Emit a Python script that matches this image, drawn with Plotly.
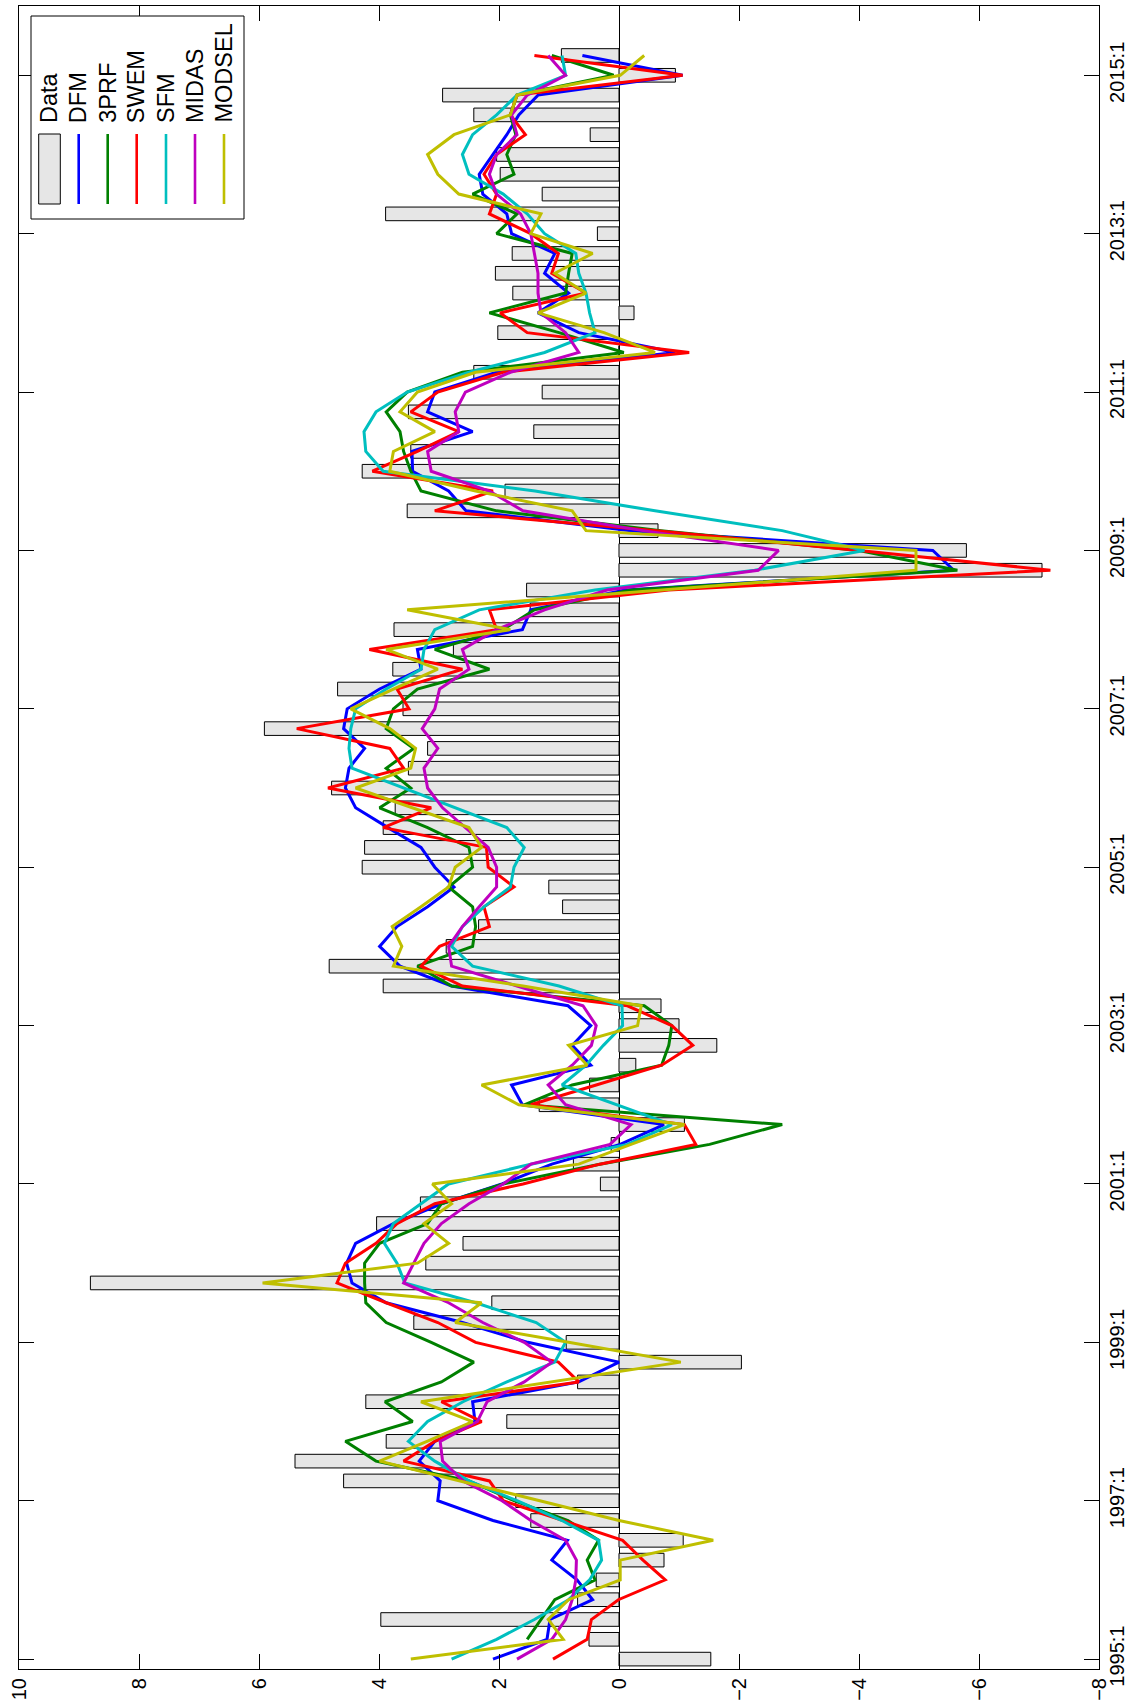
import plotly.graph_objects as go

# ---------------- data (quarterly, 1995:1 .. 2015:2) ----------------
quarters = [1995 + i / 4 for i in range(82)]

data_vals = [-1.53, 0.50, 3.97, 0.69, 0.38, -0.75, -1.07, 1.47, 1.72, 4.59,
             5.40, 3.88, 1.87, 4.22, 0.69, -2.04, 0.88, 3.42, 2.12, 8.81,
             3.22, 2.60, 4.04, 3.31, 0.31, 0.76, 0.13, -1.09, 1.33, 0.49,
             -0.28, -1.63, -1.00, -0.70, 3.93, 4.83, 2.88, 2.34, 0.94, 1.17,
             4.28, 4.24, 3.93, 3.73, 4.79, 3.51, 3.19, 5.91, 3.60, 4.69,
             3.77, 2.76, 3.75, 1.48, 1.54, -7.05, -5.79, -0.65, 3.53, 1.90,
             4.28, 3.47, 1.42, 3.51, 1.28, 2.42, 0.00, 2.02, -0.25, 1.77,
             2.06, 1.78, 0.36, 3.89, 1.28, 1.98, 2.04, 0.48, 2.42, 2.94,
             -0.94, 0.96]

dfm = [2.10, 1.20, 1.15, 0.44, 0.70, 1.12, 0.86, 2.10, 3.02, 2.98,
       3.33, 3.07, 2.40, 2.44, 0.67, 0.00, 1.52, 2.61, 3.88, 4.45,
       4.54, 4.39, 3.76, 2.96, 1.95, 1.12, -0.02, -0.75, 1.61, 1.79,
       0.47, 0.78, 0.47, 0.85, 2.79, 3.65, 3.99, 3.70, 3.19, 2.75,
       3.07, 3.30, 3.85, 4.39, 4.56, 4.50, 4.24, 4.59, 4.53, 3.99,
       3.30, 3.36, 1.61, 1.47, -0.10, -5.58, -5.23, -0.20, 2.55, 2.84,
       3.44, 3.45, 2.44, 3.19, 3.07, 2.04, -0.94, 0.67, 1.35, 0.84,
       1.24, 1.07, 1.79, 1.87, 2.27, 2.33, 2.10, 1.87, 1.67, 1.35,
       -1.06, 0.61]

prf3 = [None, 1.53, 1.30, 1.07, 0.40, 0.53, 0.34, 0.85, 1.75, 2.50,
        4.05, 4.56, 3.44, 3.90, 2.96, 2.42, 3.13, 3.88, 4.22, 4.24,
        4.24, 3.99, 3.19, 2.96, 1.93, 0.32, -1.51, -2.72, 1.58, 0.78,
        -0.71, -0.83, -0.88, -0.42, 2.79, 3.36, 2.44, 2.39, 2.44, 2.84,
        2.44, 2.50, 3.19, 3.99, 3.47, 3.88, 3.42, 3.88, 3.76, 3.36,
        2.16, 3.07, 1.93, 1.41, -0.20, -5.64, -4.00, -0.70, 2.04, 3.30,
        3.47, 3.59, 3.65, 3.88, 3.53, 2.61, -0.08, 1.00, 2.16, 0.89,
        0.84, 0.78, 2.04, 1.70, 2.44, 1.75, 1.87, 1.72, 1.81, 1.70,
        0.09, 1.12]

swem = [1.10, 0.53, 0.46, 0.01, -0.77, -0.40, -0.06, 0.95, 1.93, 2.16,
        3.59, 3.07, 2.29, 2.96, 0.67, 1.01, 2.39, 3.02, 3.88, 4.70,
        4.56, 4.05, 3.70, 3.07, 1.60, 0.32, -1.28, -1.09, 1.47, 0.38,
        -0.71, -1.23, -0.88, -0.14, 2.61, 3.30, 2.99, 2.16, 2.25, 1.75,
        2.18, 2.21, 3.93, 3.13, 4.85, 3.59, 3.82, 5.37, 3.50, 3.70,
        2.61, 4.16, 2.04, 2.16, -0.83, -7.19, -4.00, -0.62, 3.07, 2.10,
        4.11, 3.36, 2.67, 3.47, 3.02, 1.93, -1.17, 1.53, 1.98, 0.55,
        1.12, 1.01, 1.47, 2.16, 2.04, 2.25, 2.04, 1.56, 1.81, 1.70,
        -1.06, 1.41]

sfm = [2.79, 2.04, 1.41, 0.84, 0.49, 0.29, 0.34, 0.95, 1.70, 2.50,
       3.07, 3.51, 3.19, 2.60, 1.87, 1.07, 0.89, 1.38, 2.39, 3.57,
       3.70, 3.91, 3.76, 3.30, 2.84, 1.47, -0.14, -0.88, 0.03, 0.95,
       0.55, 0.26, -0.06, -0.05, 1.00, 2.44, 2.79, 2.61, 2.25, 1.81,
       1.75, 1.58, 1.87, 2.73, 3.59, 4.45, 4.50, 4.47, 4.39, 3.88,
       3.30, 3.25, 3.07, 2.33, 0.40, -2.26, -4.09, -2.72, -0.60, 1.40,
       3.93, 4.22, 4.25, 4.05, 3.53, 2.50, 1.24, 0.40, 0.49, 0.55,
       0.67, 0.72, 1.24, 1.53, 1.93, 2.50, 2.61, 2.44, 2.04, 1.70,
       0.89, 0.95]

midas = [1.70, 1.12, 0.89, 0.78, 0.72, 0.71, 0.89, 1.47, 1.95, 2.60,
         2.94, 2.98, 2.36, 2.20, 1.58, 1.12, 1.58, 2.27, 2.84, 3.59,
         3.42, 3.25, 2.96, 2.50, 1.93, 1.47, 0.15, -0.20, 0.89, 1.18,
         0.78, 0.46, 0.38, 0.60, 1.70, 2.79, 2.84, 2.61, 2.33, 2.04,
         2.04, 2.18, 2.56, 2.94, 3.19, 3.25, 3.02, 3.28, 3.07, 2.99,
         2.50, 2.61, 2.04, 1.24, 0.20, -2.32, -2.66, -0.40, 1.60, 2.16,
         3.13, 3.19, 2.67, 2.73, 2.56, 1.81, 0.67, 0.89, 1.30, 1.35,
         1.35, 1.41, 1.47, 1.64, 2.04, 2.16, 2.04, 1.70, 1.79, 1.53,
         0.89, 1.18]

modsel = [3.47, 0.93, 1.18, 0.84, -0.02, -0.02, -1.57, 0.00, 1.32, 2.65,
          3.99, 3.20, 2.44, 3.30, 1.12, -1.03, 0.84, 2.73, 2.29, 5.94,
          3.36, 2.84, 3.25, 2.79, 3.11, 0.67, -0.20, -1.09, 1.67, 2.29,
          0.53, 0.84, -0.31, -0.37, 1.60, 3.76, 3.62, 3.78, 3.30, 2.84,
          2.73, 2.29, 2.50, 3.45, 4.39, 3.47, 3.39, 3.82, 4.47, 3.76,
          3.02, 3.88, 1.81, 3.53, -0.70, -4.95, -4.95, 0.55, 0.78, 2.39,
          3.82, 3.76, 3.07, 3.65, 3.36, 2.39, -0.60, 0.25, 1.35, 0.55,
          1.07, 0.44, 1.47, 1.30, 2.67, 3.02, 3.19, 2.75, 1.81, 1.70,
          -0.02, -0.42]

series_names = ["DFM", "3PRF", "SWEM", "SFM", "MIDAS", "MODSEL"]
series_vals = [dfm, prf3, swem, sfm, midas, modsel]
series_colors = ["#0000ff", "#008000", "#ff0000", "#00bfbf", "#bf00bf", "#bfbf00"]

time_tick_vals = [1995, 1997, 1999, 2001, 2003, 2005, 2007, 2009, 2011, 2013, 2015]
time_tick_text = ["1995:1", "1997:1", "1999:1", "2001:1", "2003:1", "2005:1",
                  "2007:1", "2009:1", "2011:1", "2013:1", "2015:1"]
value_tick_vals = [10, 8, 6, 4, 2, 0, -2, -4, -6, -8]
value_tick_text = ["10", "8", "6", "4", "2", "0", "\u22122", "\u22124", "\u22126", "\u22128"]

# ---------------- figure ----------------
FONT = "Liberation Sans, Arial, Helvetica, sans-serif"
fig = go.Figure()

fig.add_trace(go.Bar(
    y=quarters, x=data_vals, orientation="h", width=0.172,
    marker=dict(color="#e6e6e6", line=dict(color="black", width=1)),
    name="Data"))

for name, vals, col in zip(series_names, series_vals, series_colors):
    fig.add_trace(go.Scatter(
        y=quarters, x=vals, mode="lines", name=name,
        line=dict(color=col, width=3), connectgaps=False))

PL, PR, PT, PB = 19, 1099, 6, 1669
W, H = 1142, 1708


def px(x):
    return (x - PL) / (PR - PL)


def py(y):
    return 1 - (y - PT) / (PB - PT)


fig.update_layout(
    width=W, height=H,
    margin=dict(l=PL, r=W - PR, t=PT, b=H - PB, pad=0),
    paper_bgcolor="white", plot_bgcolor="white",
    showlegend=False, barmode="overlay", hovermode=False,
    font=dict(family=FONT, color="black", size=20),
)

fig.update_xaxes(
    range=[10, -8], tickmode="array", tickvals=value_tick_vals,
    ticktext=value_tick_text,
    tickangle=-90, ticks="inside", ticklen=15, tickwidth=1, tickcolor="black",
    showline=True, linecolor="black", linewidth=1, mirror="ticks",
    showgrid=False, zeroline=True, zerolinecolor="black", zerolinewidth=1,
    tickfont=dict(family=FONT, size=20, color="black"), automargin=False,
)
fig.update_yaxes(
    range=[1994.875, 2015.875], tickmode="array",
    tickvals=time_tick_vals, ticktext=time_tick_text, side="right",
    tickangle=-90, ticks="inside", ticklen=15, tickwidth=1, tickcolor="black",
    showline=True, linecolor="black", linewidth=1, mirror="ticks",
    showgrid=False, zeroline=False,
    tickfont=dict(family=FONT, size=20, color="black"), automargin=False,
)

# ---------------- rotated legend (top-left) ----------------
shapes = []
annotations = []
shapes.append(dict(type="rect", xref="paper", yref="paper",
                   x0=px(31), x1=px(244), y0=py(219), y1=py(16),
                   fillcolor="white", line=dict(color="black", width=1)))
legend_names = ["Data"] + series_names
entry_x = [49.5, 78.7, 107.7, 136.7, 166, 195, 224]
for i, (nm, cx) in enumerate(zip(legend_names, entry_x)):
    if i == 0:
        shapes.append(dict(type="rect", xref="paper", yref="paper",
                           x0=px(cx - 10.8), x1=px(cx + 10.8), y0=py(204), y1=py(134),
                           fillcolor="#e6e6e6", line=dict(color="black", width=1)))
    else:
        shapes.append(dict(type="line", xref="paper", yref="paper",
                           x0=px(cx), x1=px(cx), y0=py(204), y1=py(134),
                           line=dict(color=series_colors[i - 1], width=2.6)))
    annotations.append(dict(xref="paper", yref="paper", x=px(cx), y=py(124),
                            xanchor="center", yanchor="bottom", text=nm,
                            textangle=-90, showarrow=False, borderpad=0,
                            font=dict(family=FONT, size=23.5, color="black")))

fig.update_layout(shapes=shapes, annotations=annotations)

fig.write_html("out.html",
               config={"displayModeBar": False, "staticPlot": True},
               post_script="document.body.style.margin='0';document.body.style.overflow='hidden';")
